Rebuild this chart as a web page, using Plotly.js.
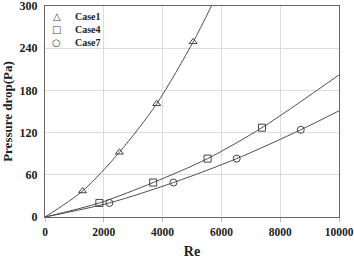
<!DOCTYPE html>
<html>
<head>
<meta charset="utf-8">
<script src="https://cdn.plot.ly/plotly-3.0.1.min.js"></script>
<style>html,body{margin:0;padding:0;background:#fff;}#chart{width:354px;height:259px;}</style>
</head>
<body>
<div id="chart"></div>
<script>
// Measured points
const case1Re = [1280, 2530, 3800, 5040];
const case1P  = [37, 92, 161, 249];
const case4Re = [1850, 3680, 5530, 7380];
const case4P  = [20, 49, 83, 127];
const case7Re = [2190, 4370, 6520, 8700];
const case7P  = [20, 49, 83, 124];
// Trend curves
const curve1Re = [0, 1280, 2530, 3800, 5040, 5660];
const curve1P  = [0, 37, 92, 161, 249, 300];
const curve4Re = [0, 1850, 3680, 5530, 7380, 10000];
const curve4P  = [0, 20, 49, 83, 127, 202];
const curve7Re = [0, 2190, 4370, 6520, 8700, 10000];
const curve7P  = [0, 20, 49, 83, 124, 151];
const names = ['Case1', 'Case4', 'Case7'];
const symbols = ['triangle-up-open', 'square-open', 'circle-open'];
const legendGlyphs = ['\u25B3', '\u25A1', '\u25CB'];

const lineColor = '#505050';
const markColor = '#444';
const curves = [[curve1Re, curve1P], [curve4Re, curve4P], [curve7Re, curve7P]];
const pts = [[case1Re, case1P], [case4Re, case4P], [case7Re, case7P]];
const traces = [];
curves.forEach((c, i) => {
  traces.push({x: c[0], y: c[1], mode: 'lines', line: {color: lineColor, width: 1, shape: 'spline', smoothing: 0.8},
    showlegend: false, hoverinfo: 'skip'});
});
pts.forEach((p, i) => {
  traces.push({x: p[0], y: p[1], mode: 'markers', name: names[i], showlegend: false,
    marker: {symbol: symbols[i], size: 7, color: markColor, line: {width: 1, color: markColor}}});
});

// Legend drawn as annotations (compact row spacing as in the reference)
const annotations = [];
names.forEach((n, i) => {
  const yPix = 16 + i * 13.3;           // pixel row from top of the figure
  const yPaper = 1 - (yPix - 6) / 211;  // converted to plot-area fraction
  annotations.push({xref: 'paper', yref: 'paper', x: 0.04, y: yPaper, xanchor: 'center', yanchor: 'middle',
    text: legendGlyphs[i], showarrow: false, font: {family: 'DejaVu Sans', size: 10, color: markColor}});
  annotations.push({xref: 'paper', yref: 'paper', x: 0.095, y: yPaper, xanchor: 'left', yanchor: 'middle',
    text: '<b>' + n + '</b>', showarrow: false, font: {family: 'Liberation Serif', size: 10, color: '#222'}});
});

const layout = {
  width: 354, height: 259,
  margin: {l: 45, r: 15, t: 6, b: 42},
  paper_bgcolor: '#fff', plot_bgcolor: '#fff',
  font: {family: 'Liberation Serif, Times New Roman, serif', color: '#222'},
  showlegend: false,
  annotations: annotations,
  xaxis: {range: [0, 10000], dtick: 2000, tick0: 0, tickformat: 'd', showgrid: true, gridcolor: '#dcdcdc', gridwidth: 1,
    zeroline: false, showline: true, linecolor: '#666', linewidth: 1, mirror: true,
    ticks: 'outside', ticklen: 4, tickcolor: '#bbb', ticklabeloverflow: 'allow',
    tickfont: {size: 11.5, weight: 'bold'},
    title: {text: 'Re', font: {size: 14, weight: 'bold'}, standoff: 10}},
  yaxis: {range: [0, 300.001], dtick: 60, tick0: 0, tickformat: 'd', showgrid: true, gridcolor: '#dcdcdc', gridwidth: 1,
    zeroline: false, showline: true, linecolor: '#666', linewidth: 1, mirror: true,
    ticks: 'outside', ticklen: 4, tickcolor: '#fff', ticklabeloverflow: 'allow',
    tickfont: {size: 12, weight: 'bold'},
    title: {text: 'Pressure drop(Pa)', font: {size: 13, weight: 'bold'}, standoff: 5}}
};
Plotly.newPlot('chart', traces, layout, {displayModeBar: false, staticPlot: true});
</script>
</body>
</html>
